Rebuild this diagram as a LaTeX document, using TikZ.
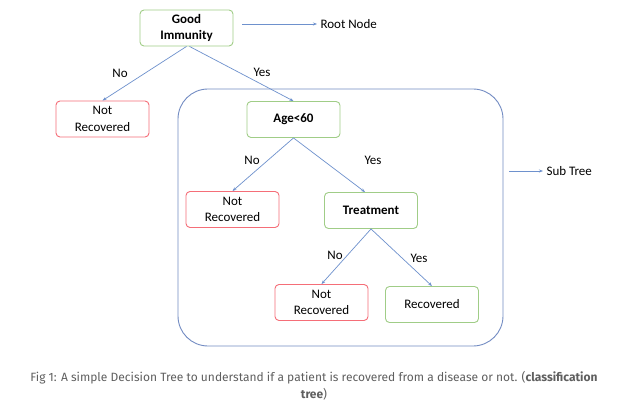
\documentclass[tikz,border=0pt]{standalone}
\usepackage{fontspec}
\setmainfont{Carlito}
\newfontfamily\capfont{Fira Sans}
\usetikzlibrary{arrows.meta}
\definecolor{gbord}{RGB}{160,205,135}
\definecolor{rbord}{RGB}{245,110,120}
\definecolor{edgeb}{RGB}{110,145,205}
\definecolor{subb}{RGB}{115,140,195}
\definecolor{capgray}{RGB}{95,95,95}
\tikzset{
  x=1pt,y=-1pt,
  box/.style={draw,line width=0.9pt,rounded corners=4pt,minimum width=93pt,minimum height=36pt,align=center,font=\fontsize{13}{16.5}\selectfont,inner sep=1pt},
  gbox/.style={box,draw=gbord},
  rbox/.style={box,draw=rbord},
  bbox/.style={gbox,font=\fontsize{13}{16.5}\selectfont\bfseries},
  edge/.style={draw=edgeb,line width=0.7pt,-{Stealth[length=4pt,width=3pt]}},
  lab/.style={font=\fontsize{13}{16}\selectfont}
}
\begin{document}
\begin{tikzpicture}
\useasboundingbox (0,0) rectangle (620,411);
\fill[white] (0,0) rectangle (620,411);
% subtree box
\draw[subb,line width=0.9pt,rounded corners=30pt] (178,89) rectangle (503,346);
% nodes
\node[bbox] (gi) at (186.5,28) {Good\\Immunity};
\node[rbox] (nr1) at (102.5,119) {Not\\Recovered};
\node[bbox] (age) at (293.5,119.5) {Age<60};
\node[rbox] (nr2) at (232.5,209.5) {Not\\Recovered};
\node[bbox] (tr) at (371,210.5) {Treatment};
\node[rbox] (nr3) at (321.5,302.5) {Not\\Recovered};
\node[gbox] (rec) at (432,304.5) {Recovered};
% annotations
\node[lab,anchor=west] (rn) at (317,24) {Root Node};
\coordinate (rs) at (242,24);
\draw[edge] (rs) -- (rn.west);
\node[lab,anchor=west] (st) at (543,171) {Sub Tree};
\coordinate (ss) at (509,171);
\draw[edge] (ss) -- (st.west);
% edges
\draw[edge] (gi.south) -- (nr1.north);
\draw[edge] ([xshift=3pt]gi.south) -- (age.north);
\draw[edge] (age.south) -- (nr2.north);
\draw[edge] (age.south) -- ([xshift=-6pt]tr.north);
\draw[edge] (tr.south) -- (nr3.north);
\draw[edge] (tr.south) -- (rec.north);
% edge labels
\node[lab] (l1) at (120,73) {No};
\node[lab] (l2) at (262,72) {Yes};
\node[lab] (l3) at (252,160) {No};
\node[lab] (l4) at (373,160) {Yes};
\node[lab] (l5) at (335,255) {No};
\node[lab] (l6) at (419,258) {Yes};
% caption
\node[font=\capfont\fontsize{12}{17}\selectfont,text=capgray,align=center] (cap) at (314,386) {Fig 1: A simple Decision Tree to understand if a patient is recovered from a disease or not. (\textbf{classification}\\\textbf{tree})};
\end{tikzpicture}
\end{document}
